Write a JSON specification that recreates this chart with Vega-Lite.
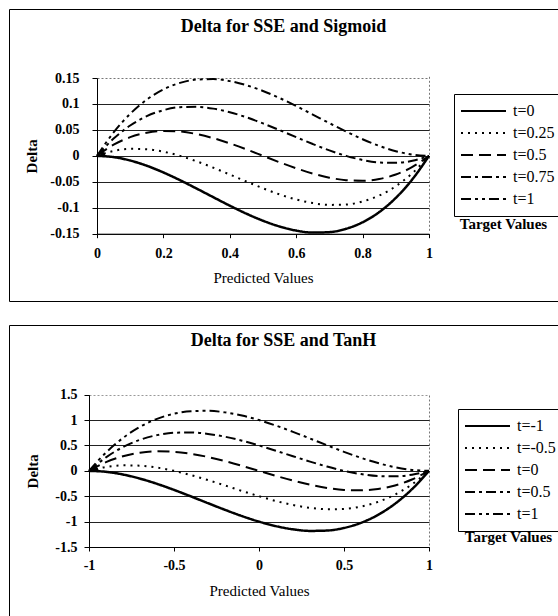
{
 "$schema": "https://vega.github.io/schema/vega-lite/v6.json",
 "padding": {"left": 8, "top": 8, "right": 0, "bottom": 0},
 "background": "white",
 "spacing": 22,
 "resolve": {"scale": {"strokeDash": "independent"}, "legend": {"strokeDash": "independent"}},
 "config": {
  "font": "Liberation Serif",
  "axis": {"labelFont": "Liberation Serif", "titleFont": "Liberation Serif", "labelColor": "black", "titleColor": "black", "domainColor": "black", "tickColor": "black", "gridColor": "#222", "gridWidth": 1, "domainWidth": 1, "labelFontSize": 14, "labelFontWeight": "bold"},
  "legend": {"labelFont": "Liberation Serif", "labelColor": "black"},
  "title": {"font": "Liberation Serif", "fontSize": 18, "fontWeight": "bold", "color": "black", "anchor": "middle"},
  "line": {"color": "black", "interpolate": "monotone"}
 },
 "datasets": {
  "sig": [
   {"x":0,"y":0,"t":"t=0"},{"x":0.05,"y":-0.0024,"t":"t=0"},{"x":0.1,"y":-0.009,"t":"t=0"},{"x":0.15,"y":-0.0191,"t":"t=0"},{"x":0.2,"y":-0.032,"t":"t=0"},{"x":0.25,"y":-0.0469,"t":"t=0"},{"x":0.3,"y":-0.063,"t":"t=0"},{"x":0.35,"y":-0.0796,"t":"t=0"},{"x":0.4,"y":-0.096,"t":"t=0"},{"x":0.45,"y":-0.1114,"t":"t=0"},{"x":0.5,"y":-0.125,"t":"t=0"},{"x":0.55,"y":-0.1361,"t":"t=0"},{"x":0.6,"y":-0.144,"t":"t=0"},{"x":0.65,"y":-0.1479,"t":"t=0"},{"x":0.7,"y":-0.147,"t":"t=0"},{"x":0.75,"y":-0.1406,"t":"t=0"},{"x":0.8,"y":-0.128,"t":"t=0"},{"x":0.85,"y":-0.1084,"t":"t=0"},{"x":0.9,"y":-0.081,"t":"t=0"},{"x":0.95,"y":-0.0451,"t":"t=0"},{"x":1,"y":0,"t":"t=0"},
   {"x":0,"y":0,"t":"t=0.25"},{"x":0.05,"y":0.0095,"t":"t=0.25"},{"x":0.1,"y":0.0135,"t":"t=0.25"},{"x":0.15,"y":0.0128,"t":"t=0.25"},{"x":0.2,"y":0.008,"t":"t=0.25"},{"x":0.25,"y":0,"t":"t=0.25"},{"x":0.3,"y":-0.0105,"t":"t=0.25"},{"x":0.35,"y":-0.0228,"t":"t=0.25"},{"x":0.4,"y":-0.036,"t":"t=0.25"},{"x":0.45,"y":-0.0495,"t":"t=0.25"},{"x":0.5,"y":-0.0625,"t":"t=0.25"},{"x":0.55,"y":-0.0743,"t":"t=0.25"},{"x":0.6,"y":-0.084,"t":"t=0.25"},{"x":0.65,"y":-0.091,"t":"t=0.25"},{"x":0.7,"y":-0.0945,"t":"t=0.25"},{"x":0.75,"y":-0.0938,"t":"t=0.25"},{"x":0.8,"y":-0.088,"t":"t=0.25"},{"x":0.85,"y":-0.0765,"t":"t=0.25"},{"x":0.9,"y":-0.0585,"t":"t=0.25"},{"x":0.95,"y":-0.0333,"t":"t=0.25"},{"x":1,"y":0,"t":"t=0.25"},
   {"x":0,"y":0,"t":"t=0.5"},{"x":0.05,"y":0.0214,"t":"t=0.5"},{"x":0.1,"y":0.036,"t":"t=0.5"},{"x":0.15,"y":0.0446,"t":"t=0.5"},{"x":0.2,"y":0.048,"t":"t=0.5"},{"x":0.25,"y":0.0469,"t":"t=0.5"},{"x":0.3,"y":0.042,"t":"t=0.5"},{"x":0.35,"y":0.0341,"t":"t=0.5"},{"x":0.4,"y":0.024,"t":"t=0.5"},{"x":0.45,"y":0.0124,"t":"t=0.5"},{"x":0.5,"y":0,"t":"t=0.5"},{"x":0.55,"y":-0.0124,"t":"t=0.5"},{"x":0.6,"y":-0.024,"t":"t=0.5"},{"x":0.65,"y":-0.0341,"t":"t=0.5"},{"x":0.7,"y":-0.042,"t":"t=0.5"},{"x":0.75,"y":-0.0469,"t":"t=0.5"},{"x":0.8,"y":-0.048,"t":"t=0.5"},{"x":0.85,"y":-0.0446,"t":"t=0.5"},{"x":0.9,"y":-0.036,"t":"t=0.5"},{"x":0.95,"y":-0.0214,"t":"t=0.5"},{"x":1,"y":0,"t":"t=0.5"},
   {"x":0,"y":0,"t":"t=0.75"},{"x":0.05,"y":0.0333,"t":"t=0.75"},{"x":0.1,"y":0.0585,"t":"t=0.75"},{"x":0.15,"y":0.0765,"t":"t=0.75"},{"x":0.2,"y":0.088,"t":"t=0.75"},{"x":0.25,"y":0.0938,"t":"t=0.75"},{"x":0.3,"y":0.0945,"t":"t=0.75"},{"x":0.35,"y":0.091,"t":"t=0.75"},{"x":0.4,"y":0.084,"t":"t=0.75"},{"x":0.45,"y":0.0743,"t":"t=0.75"},{"x":0.5,"y":0.0625,"t":"t=0.75"},{"x":0.55,"y":0.0495,"t":"t=0.75"},{"x":0.6,"y":0.036,"t":"t=0.75"},{"x":0.65,"y":0.0228,"t":"t=0.75"},{"x":0.7,"y":0.0105,"t":"t=0.75"},{"x":0.75,"y":0,"t":"t=0.75"},{"x":0.8,"y":-0.008,"t":"t=0.75"},{"x":0.85,"y":-0.0128,"t":"t=0.75"},{"x":0.9,"y":-0.0135,"t":"t=0.75"},{"x":0.95,"y":-0.0095,"t":"t=0.75"},{"x":1,"y":0,"t":"t=0.75"},
   {"x":0,"y":0,"t":"t=1"},{"x":0.05,"y":0.0451,"t":"t=1"},{"x":0.1,"y":0.081,"t":"t=1"},{"x":0.15,"y":0.1084,"t":"t=1"},{"x":0.2,"y":0.128,"t":"t=1"},{"x":0.25,"y":0.1406,"t":"t=1"},{"x":0.3,"y":0.147,"t":"t=1"},{"x":0.35,"y":0.1479,"t":"t=1"},{"x":0.4,"y":0.144,"t":"t=1"},{"x":0.45,"y":0.1361,"t":"t=1"},{"x":0.5,"y":0.125,"t":"t=1"},{"x":0.55,"y":0.1114,"t":"t=1"},{"x":0.6,"y":0.096,"t":"t=1"},{"x":0.65,"y":0.0796,"t":"t=1"},{"x":0.7,"y":0.063,"t":"t=1"},{"x":0.75,"y":0.0469,"t":"t=1"},{"x":0.8,"y":0.032,"t":"t=1"},{"x":0.85,"y":0.0191,"t":"t=1"},{"x":0.9,"y":0.009,"t":"t=1"},{"x":0.95,"y":0.0024,"t":"t=1"},{"x":1,"y":0,"t":"t=1"}
  ],
  "tanh": [
   {"x":-1,"y":0,"t":"t=-1"},{"x":-0.9,"y":-0.019,"t":"t=-1"},{"x":-0.8,"y":-0.072,"t":"t=-1"},{"x":-0.7,"y":-0.153,"t":"t=-1"},{"x":-0.6,"y":-0.256,"t":"t=-1"},{"x":-0.5,"y":-0.375,"t":"t=-1"},{"x":-0.4,"y":-0.504,"t":"t=-1"},{"x":-0.3,"y":-0.637,"t":"t=-1"},{"x":-0.2,"y":-0.768,"t":"t=-1"},{"x":-0.1,"y":-0.891,"t":"t=-1"},{"x":0,"y":-1,"t":"t=-1"},{"x":0.1,"y":-1.089,"t":"t=-1"},{"x":0.2,"y":-1.152,"t":"t=-1"},{"x":0.3,"y":-1.183,"t":"t=-1"},{"x":0.4,"y":-1.176,"t":"t=-1"},{"x":0.5,"y":-1.125,"t":"t=-1"},{"x":0.6,"y":-1.024,"t":"t=-1"},{"x":0.7,"y":-0.867,"t":"t=-1"},{"x":0.8,"y":-0.648,"t":"t=-1"},{"x":0.9,"y":-0.361,"t":"t=-1"},{"x":1,"y":0,"t":"t=-1"},
   {"x":-1,"y":0,"t":"t=-0.5"},{"x":-0.9,"y":0.076,"t":"t=-0.5"},{"x":-0.8,"y":0.108,"t":"t=-0.5"},{"x":-0.7,"y":0.102,"t":"t=-0.5"},{"x":-0.6,"y":0.064,"t":"t=-0.5"},{"x":-0.5,"y":0,"t":"t=-0.5"},{"x":-0.4,"y":-0.084,"t":"t=-0.5"},{"x":-0.3,"y":-0.182,"t":"t=-0.5"},{"x":-0.2,"y":-0.288,"t":"t=-0.5"},{"x":-0.1,"y":-0.396,"t":"t=-0.5"},{"x":0,"y":-0.5,"t":"t=-0.5"},{"x":0.1,"y":-0.594,"t":"t=-0.5"},{"x":0.2,"y":-0.672,"t":"t=-0.5"},{"x":0.3,"y":-0.728,"t":"t=-0.5"},{"x":0.4,"y":-0.756,"t":"t=-0.5"},{"x":0.5,"y":-0.75,"t":"t=-0.5"},{"x":0.6,"y":-0.704,"t":"t=-0.5"},{"x":0.7,"y":-0.612,"t":"t=-0.5"},{"x":0.8,"y":-0.468,"t":"t=-0.5"},{"x":0.9,"y":-0.266,"t":"t=-0.5"},{"x":1,"y":0,"t":"t=-0.5"},
   {"x":-1,"y":0,"t":"t=0"},{"x":-0.9,"y":0.171,"t":"t=0"},{"x":-0.8,"y":0.288,"t":"t=0"},{"x":-0.7,"y":0.357,"t":"t=0"},{"x":-0.6,"y":0.384,"t":"t=0"},{"x":-0.5,"y":0.375,"t":"t=0"},{"x":-0.4,"y":0.336,"t":"t=0"},{"x":-0.3,"y":0.273,"t":"t=0"},{"x":-0.2,"y":0.192,"t":"t=0"},{"x":-0.1,"y":0.099,"t":"t=0"},{"x":0,"y":0,"t":"t=0"},{"x":0.1,"y":-0.099,"t":"t=0"},{"x":0.2,"y":-0.192,"t":"t=0"},{"x":0.3,"y":-0.273,"t":"t=0"},{"x":0.4,"y":-0.336,"t":"t=0"},{"x":0.5,"y":-0.375,"t":"t=0"},{"x":0.6,"y":-0.384,"t":"t=0"},{"x":0.7,"y":-0.357,"t":"t=0"},{"x":0.8,"y":-0.288,"t":"t=0"},{"x":0.9,"y":-0.171,"t":"t=0"},{"x":1,"y":0,"t":"t=0"},
   {"x":-1,"y":0,"t":"t=0.5"},{"x":-0.9,"y":0.266,"t":"t=0.5"},{"x":-0.8,"y":0.468,"t":"t=0.5"},{"x":-0.7,"y":0.612,"t":"t=0.5"},{"x":-0.6,"y":0.704,"t":"t=0.5"},{"x":-0.5,"y":0.75,"t":"t=0.5"},{"x":-0.4,"y":0.756,"t":"t=0.5"},{"x":-0.3,"y":0.728,"t":"t=0.5"},{"x":-0.2,"y":0.672,"t":"t=0.5"},{"x":-0.1,"y":0.594,"t":"t=0.5"},{"x":0,"y":0.5,"t":"t=0.5"},{"x":0.1,"y":0.396,"t":"t=0.5"},{"x":0.2,"y":0.288,"t":"t=0.5"},{"x":0.3,"y":0.182,"t":"t=0.5"},{"x":0.4,"y":0.084,"t":"t=0.5"},{"x":0.5,"y":0,"t":"t=0.5"},{"x":0.6,"y":-0.064,"t":"t=0.5"},{"x":0.7,"y":-0.102,"t":"t=0.5"},{"x":0.8,"y":-0.108,"t":"t=0.5"},{"x":0.9,"y":-0.076,"t":"t=0.5"},{"x":1,"y":0,"t":"t=0.5"},
   {"x":-1,"y":0,"t":"t=1"},{"x":-0.9,"y":0.361,"t":"t=1"},{"x":-0.8,"y":0.648,"t":"t=1"},{"x":-0.7,"y":0.867,"t":"t=1"},{"x":-0.6,"y":1.024,"t":"t=1"},{"x":-0.5,"y":1.125,"t":"t=1"},{"x":-0.4,"y":1.176,"t":"t=1"},{"x":-0.3,"y":1.183,"t":"t=1"},{"x":-0.2,"y":1.152,"t":"t=1"},{"x":-0.1,"y":1.089,"t":"t=1"},{"x":0,"y":1,"t":"t=1"},{"x":0.1,"y":0.891,"t":"t=1"},{"x":0.2,"y":0.768,"t":"t=1"},{"x":0.3,"y":0.637,"t":"t=1"},{"x":0.4,"y":0.504,"t":"t=1"},{"x":0.5,"y":0.375,"t":"t=1"},{"x":0.6,"y":0.256,"t":"t=1"},{"x":0.7,"y":0.153,"t":"t=1"},{"x":0.8,"y":0.072,"t":"t=1"},{"x":0.9,"y":0.019,"t":"t=1"},{"x":1,"y":0,"t":"t=1"}
  ],
  "mk1": [{"x": 0.017, "y": 0.005}],
  "mk2": [{"x": -0.963, "y": 0.07}]
 },
 "vconcat": [
  {
   "width": 549, "height": 292,
   "view": {"stroke": "black", "strokeWidth": 1, "strokeDash": [549, 292, 841, 0]},
   "title": {"text": "Delta for SSE and Sigmoid", "offset": -27},
   "encoding": {
    "x": {"field": "x", "type": "quantitative",
     "scale": {"domain": [0, 1], "range": [88, 420], "nice": false, "zero": false},
     "axis": {"title": "Predicted Values", "values": [0, 0.2, 0.4, 0.6, 0.8, 1], "offset": -67.3, "tickSize": 4, "labelPadding": 9, "titlePadding": 10, "labelFont": "Liberation Serif", "titleFont": "Liberation Serif", "titleFontSize": 15, "titleFontWeight": "normal", "labelFlush": false, "labelExpr": "replace(format(datum.value, '~g'), '−', '-')", "grid": true, "gridColor": "#777", "gridDash": [2, 2], "gridOpacity": {"condition": {"test": "datum.value === 1", "value": 1}, "value": 0}}}
   },
   "layer": [
    {
     "data": {"name": "sig"},
     "mark": {"type": "line", "clip": false},
     "encoding": {
      "y": {"field": "y", "type": "quantitative",
       "scale": {"domain": [-0.15, 0.15], "range": [224.7, 69], "nice": false, "zero": false},
       "axis": {"title": "Delta", "values": [-0.15, -0.1, -0.05, 0, 0.05, 0.1, 0.15], "offset": -88, "tickSize": 5, "labelPadding": 13, "titlePadding": 10, "labelFont": "Liberation Serif", "titleFont": "Liberation Serif", "titleFontSize": 15, "titleFontWeight": "bold", "grid": true,
        "gridColor": {"condition": {"test": "datum.value === 0.15", "value": "#777"}, "value": "#222"},
        "gridDash": {"condition": {"test": "datum.value === 0.15", "value": [2, 2]}, "value": []},
        "labelExpr": "replace(format(datum.value, '~g'), '−', '-')"}},
      "strokeDash": {"field": "t", "type": "nominal",
       "scale": {"domain": ["t=0", "t=0.25", "t=0.5", "t=0.75", "t=1"], "range": [[1, 0], [2, 5], [12, 6], [10, 4, 3, 4], [10, 4, 3, 4, 3, 4]]},
       "legend": {"title": null, "orient": "none", "legendX": 445, "legendY": 85, "strokeColor": "black", "fillColor": "white", "padding": 6, "symbolType": "stroke", "symbolSize": 2025, "symbolStrokeWidth": 2, "symbolStrokeColor": "black", "labelFont": "Liberation Serif", "labelFontSize": 16, "labelOffset": 6, "clipHeight": 22, "rowPadding": 0}},
      "strokeWidth": {"condition": {"test": "datum.t === 't=0'", "value": 2.5}, "value": 2}
     }
    },
    {
     "data": {"name": "mk1"},
     "mark": {"type": "point", "shape": "triangle-up", "filled": true, "size": 50, "color": "black", "opacity": 1},
     "encoding": {
      "y": {"field": "y", "type": "quantitative",
       "axis": {"orient": "right", "title": "Target Values", "labels": false, "ticks": false, "domain": false, "grid": false, "titleAngle": 0, "titleX": -55, "titleY": 214, "titleAlign": "center", "titleBaseline": "middle", "titleFont": "Liberation Serif", "titleFontSize": 15, "titleFontWeight": "bold"}}
     }
    }
   ],
   "resolve": {"axis": {"y": "independent"}}
  },
  {
   "width": 549, "height": 292,
   "view": {"stroke": "black", "strokeWidth": 1, "strokeDash": [549, 841, 292, 0]},
   "title": {"text": "Delta for SSE and TanH", "offset": -25},
   "encoding": {
    "x": {"field": "x", "type": "quantitative",
     "scale": {"domain": [-1, 1], "range": [80, 420], "nice": false, "zero": false},
     "axis": {"title": "Predicted Values", "values": [-1, -0.5, 0, 0.5, 1], "offset": -70, "tickSize": 4, "labelPadding": 7, "titlePadding": 11, "labelFont": "Liberation Serif", "titleFont": "Liberation Serif", "titleFontSize": 15, "titleFontWeight": "normal", "labelFlush": false, "labelExpr": "replace(format(datum.value, '~g'), '−', '-')", "grid": true, "gridColor": "#777", "gridDash": [2, 2], "gridOpacity": {"condition": {"test": "datum.value === 1", "value": 1}, "value": 0}}}
   },
   "layer": [
    {
     "data": {"name": "tanh"},
     "mark": {"type": "line", "clip": false},
     "encoding": {
      "y": {"field": "y", "type": "quantitative",
       "scale": {"domain": [-1.5, 1.5], "range": [222, 69.7], "nice": false, "zero": false},
       "axis": {"title": "Delta", "values": [-1.5, -1, -0.5, 0, 0.5, 1, 1.5], "offset": -80, "tickSize": 5, "labelPadding": 7, "titlePadding": 14, "labelFont": "Liberation Serif", "titleFont": "Liberation Serif", "titleFontSize": 15, "titleFontWeight": "bold", "grid": true,
        "gridColor": {"condition": {"test": "datum.value === 1.5", "value": "#999"}, "value": "#222"},
        "gridDash": {"condition": {"test": "datum.value === 1.5", "value": [2, 2]}, "value": []},
        "labelExpr": "replace(format(datum.value, '~g'), '−', '-')"}},
      "strokeDash": {"field": "t", "type": "nominal",
       "scale": {"domain": ["t=-1", "t=-0.5", "t=0", "t=0.5", "t=1"], "range": [[1, 0], [2, 5], [12, 6], [10, 4, 3, 4], [10, 4, 3, 4, 3, 4]]},
       "legend": {"title": null, "orient": "none", "legendX": 449, "legendY": 84, "strokeColor": "black", "fillColor": "white", "padding": 6, "symbolType": "stroke", "symbolSize": 2025, "symbolStrokeWidth": 2, "symbolStrokeColor": "black", "labelFont": "Liberation Serif", "labelFontSize": 16, "labelOffset": 6, "clipHeight": 22, "rowPadding": 0}},
      "strokeWidth": {"condition": {"test": "datum.t === 't=-1'", "value": 2.5}, "value": 2}
     }
    },
    {
     "data": {"name": "mk2"},
     "mark": {"type": "point", "shape": "triangle-up", "filled": true, "size": 50, "color": "black", "opacity": 1},
     "encoding": {
      "y": {"field": "y", "type": "quantitative",
       "axis": {"orient": "right", "title": "Target Values", "labels": false, "ticks": false, "domain": false, "grid": false, "titleAngle": 0, "titleX": -50, "titleY": 211, "titleAlign": "center", "titleBaseline": "middle", "titleFont": "Liberation Serif", "titleFontSize": 15, "titleFontWeight": "bold"}}
     }
    }
   ],
   "resolve": {"axis": {"y": "independent"}}
  }
 ]
}
